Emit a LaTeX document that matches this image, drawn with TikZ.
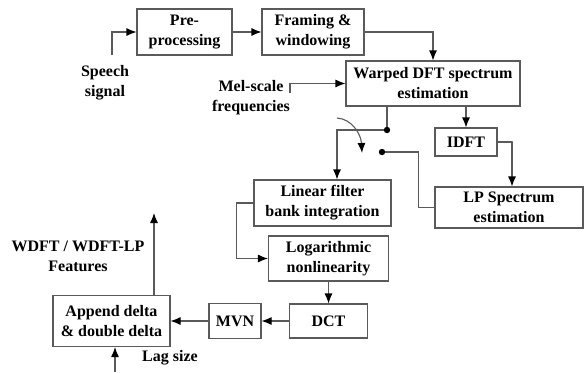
\documentclass[tikz,border=0pt]{standalone}
\usepackage{fontspec}
\setmainfont{Liberation Serif}
\usepackage{tikz}
\usetikzlibrary{arrows.meta}
\definecolor{linegray}{RGB}{90,90,90}
\newcommand*{\dotsize}{3.2pt}

\begin{document}
\begin{tikzpicture}[x=1pt,y=-1pt]
\tikzset{block/.style={draw=linegray, line width=1.1pt, align=center, inner sep=0pt, font=\bfseries\fontsize{16}{20}\selectfont}};
\tikzset{lbl/.style={align=center, inner sep=0pt, font=\bfseries\fontsize{16}{20}\selectfont}};
\tikzset{wire/.style={draw=linegray, line width=1.1pt}};
\tikzset{arr/.style={wire, -{Latex[length=10pt,width=8pt,color=black]}}};

    \path (0,0) rectangle (585,372);

    % top row
    \node[block, minimum width=95pt, minimum height=46pt] (pre) at (184.5,32) {Pre-\\processing};
    \node[block, minimum width=102pt, minimum height=46pt] (frame) at (313,32) {Framing \&\\windowing};
    \node[block, minimum width=174pt, minimum height=45pt] (warped) at (433,83.5) {Warped DFT spectrum\\estimation};
    \node[block, minimum width=62pt, minimum height=28pt] (idft) at (466,142) {IDFT};
    \node[block, minimum width=148pt, minimum height=41pt] (lp) at (509,207.5) {LP Spectrum\\estimation};

    % cepstral chain
    \node[block, minimum width=137pt, minimum height=46pt] (lin) at (322.5,203) {Linear filter\\bank integration};
    \node[block, minimum width=120pt, minimum height=45pt] (log) at (328.5,258.5) {Logarithmic\\nonlinearity};
    \node[block, minimum width=78pt, minimum height=34pt] (dct) at (328.5,321) {DCT};
    \node[block, minimum width=52pt, minimum height=35pt] (mvn) at (235,321) {MVN};
    \node[block, minimum width=117pt, minimum height=51pt] (app) at (111.5,321) {Append delta\\\& double delta};

    % labels
    \node[lbl] (speech) at (105,83) {Speech\\signal};
    \node[lbl] (mel) at (251,97.5) {Mel-scale\\frequencies};
    \node[lbl] (feat) at (78,256.5) {WDFT / WDFT-LP\\Features};
    \node[lbl] (lag) at (170,358) {Lag size};

    \coordinate (speechin) at (112,55);
    \coordinate (melin) at (290,93);
    \coordinate (sw1) at (387,130);
    \coordinate (sw2) at (382,152);
    \coordinate (featout) at (154,213);
    \coordinate (lagin) at (115,372);

    \draw[arr] (speechin) |- (pre.west);
    \draw[arr] (pre) -- (frame);
    \draw[arr] (frame.east) -| (warped.north);
    \draw[arr] (melin) |- (warped.west);
    \draw[arr] (idft.north |- warped.south) -- (idft.north);
    \draw[arr] (idft.east) -- ++(15,0) -| ([xshift=3pt]lp.north);

    % switch
    \draw[wire] (sw1 |- warped.south) -- (sw1);
    \draw[arr] (sw1) -| ([xshift=14.5pt]lin.north);
    \draw[wire] (lp.west) -- ++(-16,0) |- (sw2);
    \fill (sw1) circle (\dotsize);
    \fill (sw2) circle (\dotsize);
    \draw[arr] (337,118) .. controls (352,119) and (361,134) .. (362,153);

    \draw[arr] (lin.west) -- ++(-17,0) |- (log.west);
    \draw[arr] (log) -- (dct);
    \draw[arr] (dct) -- (mvn);
    \draw[arr] (mvn) -- (app);
    \draw[arr] (featout |- app.north) -- (featout);
    \draw[arr] (lagin) -- (lagin |- app.south);
\end{tikzpicture}
\end{document}
